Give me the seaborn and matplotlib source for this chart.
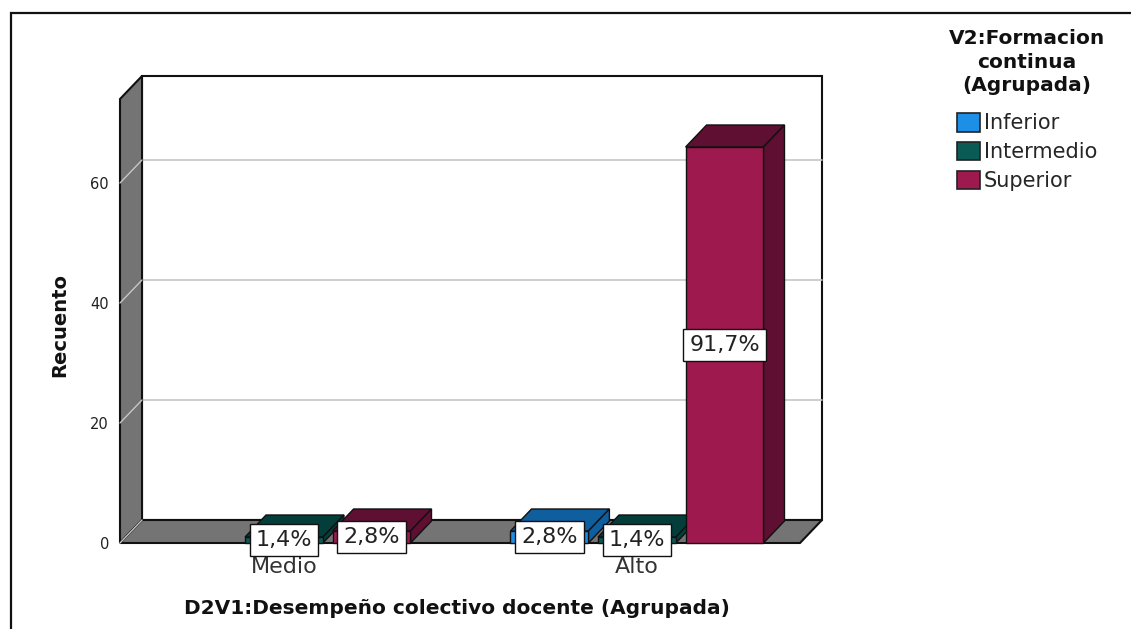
import matplotlib
matplotlib.use("Agg")
import matplotlib.pyplot as plt
from matplotlib.patches import Polygon, Rectangle, Patch
import pandas as pd
import seaborn as sns

# Counts per group and level
categories = ["Medio", "Alto"]
levels = ["Inferior", "Intermedio", "Superior"]
counts_medio = [0, 1, 2]
counts_alto = [2, 1, 66]
y_ticks = [0, 20, 40, 60]

front_colors = ["#1E8FE6", "#0A5A56", "#9E194E"]
shade_colors = ["#0F5E9E", "#033E3B", "#5E0F32"]
wall_color = "#747474"
grid_color = "#c6c6c6"

rows = []
for cat, vals in zip(categories, [counts_medio, counts_alto]):
    for lev, v in zip(levels, vals):
        rows.append({"grupo": cat, "nivel": lev, "recuento": v})
df = pd.DataFrame(rows)
total = df["recuento"].sum()

sns.set_style("white")
plt.rcParams["font.family"] = ["DejaVu Sans"]

W, H = 1131, 629
fig = plt.figure(figsize=(W / 100, H / 100), dpi=100)
ax = fig.add_axes([120 / W, 86 / H, 680 / W, 444 / H])
ax.patch.set_visible(False)

# Front faces of the bars
sns.barplot(data=df, x="grupo", y="recuento", hue="nivel", order=categories, hue_order=levels,
            palette=dict(zip(levels, front_colors)), saturation=1, width=0.744, gap=0.11,
            errorbar=None, edgecolor="#111111", linewidth=1.0, legend=False, ax=ax)

XL, XR = -0.4646, 1.4618
YMAX = 74
ax.set_xlim(XL, XR)
ax.set_ylim(0, YMAX)

px_x = 680 / (XR - XL)      # pixels per x unit
px_y = 444 / YMAX           # pixels per y unit
dxw, dyw = 22 / px_x, 23 / px_y   # wall depth
dxb, dyb = 21 / px_x, 22 / px_y   # bar depth

# Walls and floor of the 3D box
ax.add_patch(Polygon([(XL + dxw, dyw), (XR + dxw, dyw), (XR + dxw, YMAX + dyw), (XL + dxw, YMAX + dyw)],
                     closed=True, fc="white", ec="#111111", lw=1.5, clip_on=False, zorder=0.5))
ax.add_patch(Polygon([(XL, 0), (XL + dxw, dyw), (XL + dxw, YMAX + dyw), (XL, YMAX)],
                     closed=True, fc=wall_color, ec="#111111", lw=1.5, clip_on=False, zorder=0.6))
ax.add_patch(Polygon([(XL, 0), (XR, 0), (XR + dxw, dyw), (XL + dxw, dyw)],
                     closed=True, fc=wall_color, ec="#111111", lw=1.5, clip_on=False, zorder=0.6))
for v in y_ticks:
    if v > 0:
        ax.plot([XL + dxw, XR + dxw], [v + dyw, v + dyw], color=grid_color, lw=1.2,
                clip_on=False, zorder=0.55)
    ax.plot([XL, XL + dxw], [v, v + dyw], color=grid_color, lw=1.0, clip_on=False, zorder=0.7)

bars = []
for lev_i, cont in enumerate(ax.containers):
    for cat_i, bar in enumerate(cont.patches):
        bars.append((cat_i, lev_i, bar))
bars.sort(key=lambda t: (t[0], t[1]))

z = 2
for cat_i, lev_i, bar in bars:
    h = bar.get_height()
    if h <= 0:
        bar.set_visible(False)
        continue
    x0 = bar.get_x()
    x1 = x0 + bar.get_width()
    bar.set_zorder(z + 0.2)
    bar.set_clip_on(False)
    ax.add_patch(Polygon([(x0, h), (x1, h), (x1 + dxb, h + dyb), (x0 + dxb, h + dyb)], closed=True,
                         fc=shade_colors[lev_i], ec="#111111", lw=1.0, clip_on=False, zorder=z))
    ax.add_patch(Polygon([(x1, 0), (x1 + dxb, dyb), (x1 + dxb, h + dyb), (x1, h)], closed=True,
                         fc=shade_colors[lev_i], ec="#111111", lw=1.0, clip_on=False, zorder=z + 0.1))
    z += 1

# Percentage labels
for cat_i, lev_i, bar in bars:
    h = bar.get_height()
    if h <= 0:
        continue
    pct = f"{h / total * 100:.1f}%".replace(".", ",")
    ax.text(bar.get_x() + bar.get_width() / 2, h / 2, pct, ha="center", va="center",
            fontsize=16, color="#222222", zorder=50, clip_on=False,
            bbox=dict(boxstyle="square,pad=0.28", fc="white", ec="#111111", lw=1.0))

for s in ax.spines.values():
    s.set_visible(False)
ax.set_xlabel("")
ax.set_ylabel("")
ax.set_yticks(y_ticks)
ax.tick_params(axis="y", length=0, pad=8, labelsize=10.5, labelcolor="#222222")
ax.tick_params(axis="x", length=0, pad=10, labelsize=16, labelcolor="#333333")

fig.text(60 / W, 1 - 325 / H, "Recuento", rotation=90, ha="center", va="center",
         fontsize=14, fontweight="bold", color="#111111")
fig.text(457 / W, 1 - 608 / H, "D2V1:Desempeño colectivo docente (Agrupada)", ha="center",
         va="center", fontsize=14.5, fontweight="bold", color="#111111")

# Legend: bold centred title above the colour keys
fig.text(1027 / W, 1 - 29 / H, "V2:Formacion\ncontinua\n(Agrupada)", ha="center", va="top",
         multialignment="center", linespacing=1.3, fontsize=14.5, fontweight="bold",
         color="#111111")
handles = [Patch(facecolor=c, edgecolor="#222222", lw=1.2, label=l) for l, c in zip(levels, front_colors)]
fig.legend(handles=handles, loc="upper center", bbox_to_anchor=(1027 / W, 1 - 113 / H),
           frameon=False, fontsize=15, handlelength=1.1, handleheight=1.0, handletextpad=0.2,
           labelspacing=0.4, borderpad=0, borderaxespad=0)

# Outer frame
fig.patches.append(Rectangle((11 / W, -0.05), 1.1, 1 - 13 / H + 0.05, transform=fig.transFigure,
                             fill=False, ec="#111111", lw=1.6, zorder=100))

fig.savefig("out.png", dpi=100)
